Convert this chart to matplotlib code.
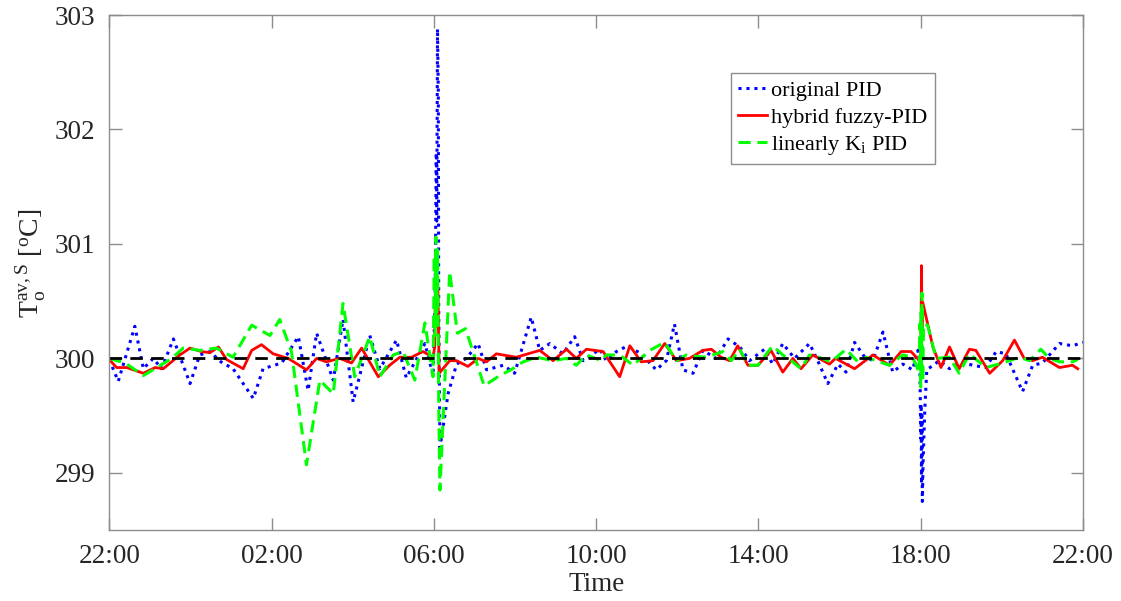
import matplotlib
matplotlib.use("Agg")
import matplotlib.pyplot as plt

# ---- data (hours since 22:00, temperature in degC) ----
t_orig = [0.0, 0.22, 0.63, 0.84, 1.08, 1.29, 1.58, 1.99, 2.23, 2.48, 2.75, 3.05, 3.55, 3.79,
          4.25, 4.66, 4.90, 5.11, 5.52, 5.76, 6.01, 6.42, 6.67, 7.08, 7.32, 7.78, 7.98, 8.03,
          8.06, 8.07, 8.09, 8.11, 8.12, 8.15, 8.35, 8.56, 8.80, 9.09, 9.30, 9.71, 9.99, 10.40,
          10.61, 10.86, 11.18, 11.47, 11.68, 12.09, 12.25, 12.50, 12.78, 13.11, 13.48, 13.73,
          13.93, 14.14, 14.39, 14.63, 14.96, 15.25, 15.54, 15.78, 16.15, 16.35, 16.60, 16.89,
          17.26, 17.50, 17.71, 17.96, 18.16, 18.37, 18.60, 18.82, 19.07, 19.31, 19.56, 19.80,
          19.93, 19.98, 20.00, 20.01, 20.02, 20.03, 20.04, 20.06, 20.10, 20.15, 20.46, 20.71,
          21.00, 21.28, 21.60, 21.86, 22.10, 22.51, 22.76, 23.00, 23.42, 23.74, 24.00]
v_orig = [299.99, 299.80, 300.28, 299.91, 300.00, 299.91, 300.17, 299.78, 300.03, 300.06, 299.97,
          299.91, 299.65, 299.91, 299.96, 300.19, 299.72, 300.22, 299.81, 300.34, 299.62, 300.20,
          299.91, 300.16, 299.83, 300.13, 299.85, 300.50, 301.80, 301.20, 302.88, 302.30, 300.40,
          299.22, 299.69, 299.95, 300.00, 300.13, 299.90, 299.94, 299.87, 300.36, 300.07, 300.13,
          300.04, 300.19, 299.98, 300.08, 299.98, 300.06, 300.11, 300.04, 299.90, 299.98, 300.30,
          299.90, 299.87, 300.07, 300.00, 300.17, 300.10, 299.98, 300.08, 299.95, 300.13, 300.00,
          300.13, 299.95, 299.78, 299.95, 299.88, 300.14, 300.02, 299.98, 300.23, 299.88, 299.95,
          299.90, 300.07, 299.95, 299.30, 299.60, 298.90, 299.50, 298.75, 299.10, 299.55, 299.90,
          299.98, 299.91, 299.97, 299.94, 299.92, 300.06, 300.04, 299.71, 299.94, 299.96, 300.13,
          300.11, 300.14]

t_fuzzy = [0.0, 0.18, 0.43, 0.84, 1.13, 1.33, 1.74, 1.99, 2.27, 2.48, 2.69, 2.89, 3.30, 3.51,
           3.75, 4.04, 4.41, 4.86, 5.11, 5.35, 5.68, 5.97, 6.22, 6.63, 6.91, 7.16, 7.45, 7.73,
           7.98, 8.02, 8.04, 8.10, 8.13, 8.39, 8.56, 8.84, 9.09, 9.30, 9.54, 10.03, 10.61, 10.94,
           11.27, 11.51, 11.76, 12.17, 12.58, 12.83, 13.11, 13.40, 13.69, 13.98, 14.30, 14.63,
           14.84, 15.08, 15.29, 15.49, 15.74, 15.99, 16.31, 16.60, 16.85, 17.05, 17.34, 17.75,
           17.90, 18.37, 18.82, 19.23, 19.52, 19.76, 19.97, 20.00, 20.02, 20.03, 20.05, 20.30,
           20.50, 20.71, 20.95, 21.20, 21.36, 21.70, 22.02, 22.31, 22.55, 22.76, 23.00, 23.42,
           23.74, 23.87]
v_fuzzy = [299.99, 299.92, 299.92, 299.87, 299.92, 299.91, 300.03, 300.09, 300.06, 300.05, 300.10,
           299.99, 299.91, 300.07, 300.12, 300.04, 300.00, 299.90, 300.00, 299.97, 300.00, 299.96,
           300.09, 299.84, 299.94, 300.01, 300.01, 300.06, 300.01, 300.10, 300.66, 300.62, 299.87,
           299.98, 299.98, 299.93, 300.00, 299.97, 300.04, 300.01, 300.07, 299.98, 300.08, 300.00,
           300.08, 300.06, 299.84, 300.11, 299.97, 299.98, 300.13, 299.98, 300.00, 300.07, 300.08,
           300.01, 299.98, 300.11, 299.94, 299.94, 300.07, 299.88, 300.00, 299.91, 300.03, 299.95,
           300.00, 299.91, 300.03, 299.94, 300.06, 300.06, 299.98, 299.92, 300.81, 300.25, 300.49,
           300.10, 299.92, 300.10, 299.91, 300.08, 300.07, 299.87, 299.98, 300.16, 300.00, 299.98,
           300.01, 299.92, 299.94, 299.91]

t_lin = [0.0, 0.39, 0.84, 1.17, 1.54, 1.82, 2.23, 2.64, 3.05, 3.51, 3.96, 4.20, 4.49, 4.86, 5.19,
         5.52, 5.76, 6.05, 6.42, 6.67, 7.00, 7.24, 7.53, 7.78, 7.98, 8.01, 8.03, 8.05, 8.07, 8.09,
         8.12, 8.15, 8.39, 8.58, 8.78, 9.24, 9.62, 9.90, 10.20, 10.53, 10.94, 11.27, 11.51, 11.76,
         12.13, 12.25, 12.58, 12.91, 13.32, 13.69, 13.98, 14.22, 14.63, 14.88, 15.12, 15.33, 15.54,
         15.74, 15.99, 16.35, 16.60, 16.81, 17.05, 17.26, 17.50, 17.79, 18.16, 18.45, 18.65, 18.90,
         19.23, 19.56, 19.80, 19.96, 19.98, 20.00, 20.01, 20.02, 20.03, 20.05, 20.07, 20.17, 20.38,
         20.71, 20.95, 21.20, 21.61, 22.02, 22.43, 22.68, 22.96, 23.17, 23.42, 23.74, 23.87]
v_lin = [300.00, 299.96, 299.85, 299.92, 300.00, 300.09, 300.07, 300.09, 300.01, 300.29, 300.20,
         300.34, 300.06, 299.07, 299.81, 299.69, 300.48, 299.84, 300.19, 299.84, 300.03, 300.06,
         299.81, 300.31, 299.84, 300.90, 300.20, 301.06, 300.40, 300.95, 299.60, 298.85, 300.76,
         300.22, 300.26, 299.76, 299.85, 299.90, 299.97, 300.01, 299.98, 300.00, 299.94, 300.03,
         299.98, 300.03, 300.03, 299.94, 300.07, 300.14, 299.98, 300.03, 300.01, 300.03, 300.06,
         299.98, 300.08, 299.94, 299.94, 300.11, 300.03, 299.98, 299.91, 300.03, 300.01, 299.97,
         300.08, 299.97, 300.01, 299.98, 299.94, 300.03, 300.01, 299.88, 300.30, 299.75, 300.40,
         299.85, 300.57, 299.80, 300.30, 300.29, 300.00, 300.01, 299.87, 300.04, 299.92, 299.96,
         300.01, 299.98, 300.08, 300.00, 299.97, 299.97, 299.99]

setpoint = 300.0
x_ticks = [0, 4, 8, 12, 16, 20, 24]
x_ticklabels = ["22:00", "02:00", "06:00", "10:00", "14:00", "18:00", "22:00"]
y_ticks = [299, 300, 301, 302, 303]
labels = ["original PID", "hybrid fuzzy-PID", r"linearly K$_\mathrm{i}$ PID"]

# ---- style ----
plt.rcParams["font.family"] = ["Liberation Serif", "DejaVu Serif"]
plt.rcParams["mathtext.fontset"] = "custom"
plt.rcParams["mathtext.rm"] = "Liberation Serif"
plt.rcParams["mathtext.it"] = "Liberation Serif"

fig = plt.figure(figsize=(11.21, 6.01), dpi=100)
ax = fig.add_axes([0.0975, 0.118, 0.8686, 0.857])

ax.plot(t_orig, v_orig, color=(0, 0, 1), linestyle=(0, (1, 1.6)), linewidth=2.2, label=labels[0])
ax.plot(t_fuzzy, v_fuzzy, color=(1, 0, 0), linestyle="-", linewidth=2.0, label=labels[1])
ax.plot(t_lin, v_lin, color=(0, 1, 0), linestyle=(0, (4, 2.2)), linewidth=2.2, label=labels[2])
ax.plot([x_ticks[0], x_ticks[-1]], [setpoint, setpoint], color="black",
        linestyle=(0, (4.5, 3)), linewidth=2.0)

ax.set_xlim(0, 24)
ax.set_ylim(298.5, 303)
ax.set_xticks(x_ticks)
ax.set_xticklabels(x_ticklabels)
ax.set_yticks(y_ticks)

for s in ax.spines.values():
    s.set_color("#8c8c8c")
    s.set_linewidth(1.0)
ax.tick_params(direction="in", length=9, width=1.0, color="#8c8c8c",
               top=True, right=True, labelsize=19.5, labelcolor="#262626", pad=10)

ax.set_xlabel("Time", fontsize=19.5, color="#262626", labelpad=2)
ax.set_ylabel(r"T$_\mathrm{o}^\mathrm{av,S}$ [$^\mathrm{o}$C]", fontsize=20,
              color="#262626")
ax.yaxis.set_label_coords(-0.063, 0.518)

leg = ax.legend(loc="upper left", bbox_to_anchor=(0.638, 0.888), fontsize=16,
                handlelength=1.3, handletextpad=0.15, borderpad=0.35,
                labelspacing=0.27, fancybox=False, framealpha=1, borderaxespad=0)
leg.get_frame().set_edgecolor("#8c8c8c")
leg.get_frame().set_linewidth(1.0)

fig.savefig("out.png", dpi=100)
